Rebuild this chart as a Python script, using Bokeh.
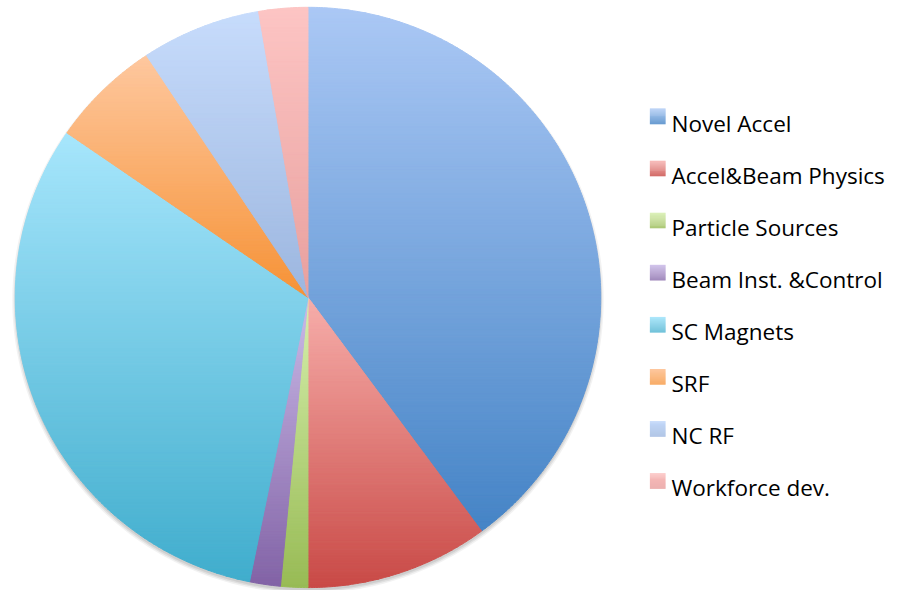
import math
from bokeh.plotting import figure
from bokeh.models import Range1d, ColumnDataSource
from bokeh.core.properties import value
from bokeh.embed import file_html
from bokeh.resources import INLINE

# ---- data ----
categories = ["Novel Accel", "Accel&Beam Physics", "Particle Sources", "Beam Inst. &Control",
              "SC Magnets", "SRF", "NC RF", "Workforce dev."]
values = [39.9, 10.1, 1.5, 1.7, 31.4, 6.1, 6.6, 2.7]

# gradient colours (top, bottom) per category
top_colors = ["#abc8f5", "#f7aeab", "#d6efad", "#cbbbe8", "#a7e6fc", "#fec89f", "#c7dcfc", "#fdc5c4"]
bottom_colors = ["#4584c6", "#c94a46", "#98bb55", "#8263a6", "#40adcd", "#f69236", "#9cb6df", "#e8a09e"]

# ---- layout (drawing units = reference pixels) ----
W, H = 894, 590
UW, UH = 910, 606
cx, cy, r = 313, 305, 298


def hex2rgb(h):
    h = h.lstrip("#")
    return tuple(int(h[i:i + 2], 16) for i in (0, 2, 4))


def mix(c1, c2, t):
    a, b = hex2rgb(c1), hex2rgb(c2)
    return "#%02x%02x%02x" % tuple(int(round(a[i] + (b[i] - a[i]) * t)) for i in range(3))


def clip_half(pts, keep, ycut):
    out = []
    n = len(pts)
    for i in range(n):
        cur, prev = pts[i], pts[i - 1]
        cin, pin = keep(cur), keep(prev)
        if cin:
            if not pin:
                t = (ycut - prev[1]) / (cur[1] - prev[1])
                out.append((prev[0] + t * (cur[0] - prev[0]), ycut))
            out.append(cur)
        elif pin:
            t = (ycut - prev[1]) / (cur[1] - prev[1])
            out.append((prev[0] + t * (cur[0] - prev[0]), ycut))
    return out


def bands(poly, ctop, cbot, step):
    ys = [p[1] for p in poly]
    ymin, ymax = min(ys), max(ys)
    n = max(1, int(math.ceil((ymax - ymin) / step)))
    h = (ymax - ymin) / n
    res = []
    for k in range(n):
        a, b = ymin + k * h, ymin + (k + 1) * h
        q = clip_half(poly, lambda p: p[1] >= a, a)
        if len(q) < 3:
            continue
        q = clip_half(q, lambda p: p[1] <= b, b)
        if len(q) < 3:
            continue
        t = (k + 0.5) / n
        res.append(([p[0] for p in q], [p[1] for p in q], mix(ctop, cbot, t)))
    return res


def circle_poly(x0, y0, rad, n=360):
    return ([x0 + rad * math.cos(2 * math.pi * k / n) for k in range(n)],
            [y0 + rad * math.sin(2 * math.pi * k / n) for k in range(n)])


p = figure(width=W, height=H, output_backend="svg", toolbar_location=None,
           x_range=Range1d(0, UW), y_range=Range1d(UH, 0),
           min_border=0)
p.axis.visible = False
p.grid.visible = False
p.outline_line_color = None
p.background_fill_color = "white"
p.border_fill_color = "white"

# soft shadow
for dr, al in [(3, 0.05), (1.5, 0.07), (0, 0.08)]:
    sx, sy = circle_poly(cx, cy + 3, r + dr)
    p.patch(sx, sy, fill_color="black", fill_alpha=al, line_color=None)

total = sum(values)
xs, ys, cols = [], [], []
ang = 0.0
for i, v in enumerate(values):
    a0 = ang
    a1 = ang + v / total * 2 * math.pi
    ang = a1
    nseg = max(4, int((a1 - a0) / math.radians(0.5)))
    poly = [(cx, cy)]
    for j in range(nseg + 1):
        t = a0 + (a1 - a0) * j / nseg
        poly.append((cx + r * math.sin(t), cy - r * math.cos(t)))
    for bx, by, c in bands(poly, top_colors[i], bottom_colors[i], 3):
        xs.append(bx)
        ys.append(by)
        cols.append(c)

src = ColumnDataSource(dict(xs=xs, ys=ys, c=cols))
p.patches("xs", "ys", source=src, fill_color="c", line_color="c", line_width=1)

# legend
lx, ly0, dy, sz = 661, 119, 53.5, 16
lxs, lys, lcs = [], [], []
tx, ty = [], []
for i, name in enumerate(categories):
    yc = ly0 + i * dy
    sq = [(lx, yc - sz / 2), (lx + sz, yc - sz / 2), (lx + sz, yc + sz / 2), (lx, yc + sz / 2)]
    for bx, by, c in bands(sq, top_colors[i], bottom_colors[i], 1):
        lxs.append(bx)
        lys.append(by)
        lcs.append(c)
    tx.append(683)
    ty.append(yc + 7)

lsrc = ColumnDataSource(dict(xs=lxs, ys=lys, c=lcs))
p.patches("xs", "ys", source=lsrc, fill_color="c", line_color=None)
p.text(x=tx, y=ty, text=categories, text_font=value("Open Sans"), text_font_size="22.5px",
       text_color="#000000", text_baseline="alphabetic", text_align="left")

open("out.html", "w").write(file_html(p, INLINE))
